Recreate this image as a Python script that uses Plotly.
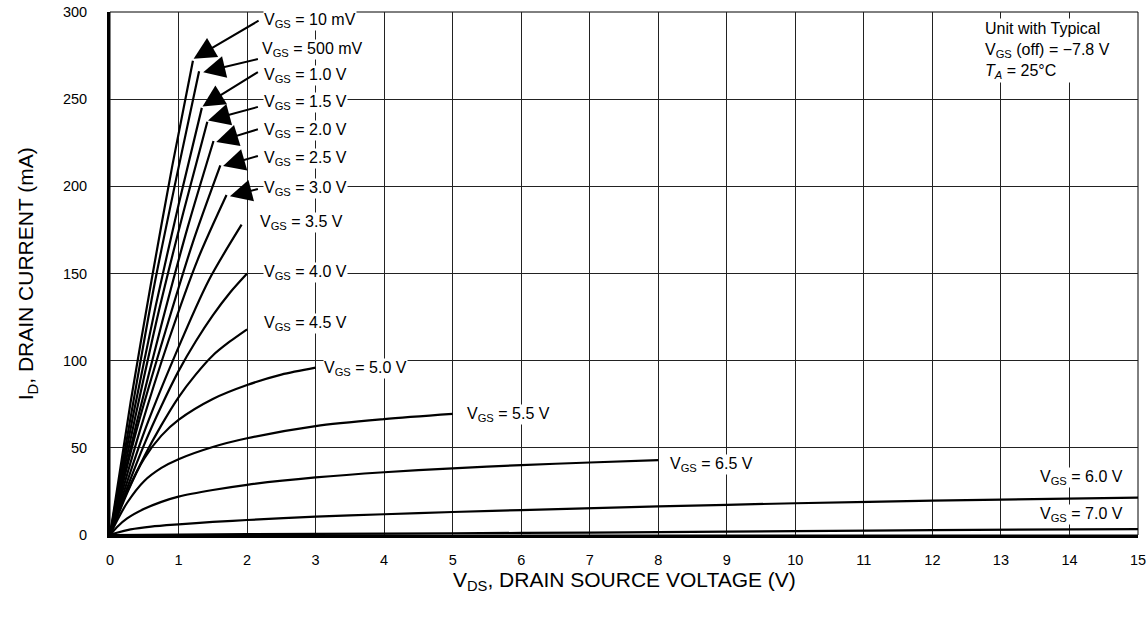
import plotly.graph_objects as go

FONT = "Liberation Sans, Arial, sans-serif"

# ---- data ----
curve_names = ["10 mV", "500 mV", "1.0 V", "1.5 V", "2.0 V", "2.5 V", "3.0 V", "3.5 V",
               "4.0 V", "4.5 V", "5.0 V", "5.5 V", "6.5 V", "6.0 V", "7.0 V"]

vds_10mV = [0, 0.30, 0.61, 0.91, 1.21]
id_10mV = [0, 76, 147, 212, 272]
vds_500mV = [0, 0.33, 0.65, 0.98, 1.30]
id_500mV = [0, 74, 144, 207, 266]
vds_1v0 = [0, 0.34, 0.67, 1.01, 1.34]
id_1v0 = [0, 69, 132, 191, 245]
vds_1v5 = [0, 0.36, 0.71, 1.07, 1.42]
id_1v5 = [0, 66, 128, 185, 237]
vds_2v0 = [0, 0.38, 0.76, 1.13, 1.51]
id_2v0 = [0, 63, 122, 176, 226]
vds_2v5 = [0, 0.40, 0.81, 1.21, 1.61]
id_2v5 = [0, 62, 117, 168, 212]
vds_3v0 = [0, 0.43, 0.85, 1.28, 1.70]
id_3v0 = [0, 59, 111, 158, 195]
vds_3v5 = [0, 0.48, 0.96, 1.44, 1.92]
id_3v5 = [0, 57, 104, 146, 178]
vds_4v0 = [0, 0.25, 0.5, 0.75, 1, 1.25, 1.5, 1.75, 2]
id_4v0 = [0, 27, 52, 74, 94, 111, 126, 139, 150]
vds_4v5 = [0, 0.25, 0.5, 0.75, 1, 1.25, 1.5, 1.75, 2]
id_4v5 = [0, 24, 45, 63, 79, 92, 103, 111, 118]
vds_5v0 = [0, 0.1, 0.25, 0.5, 0.75, 1, 1.5, 2, 2.5, 3]
id_5v0 = [0, 11, 25, 44, 57, 66, 78, 86, 92, 96]
vds_5v5 = [0, 0.1, 0.25, 0.5, 0.75, 1, 1.5, 2, 3, 4, 5]
id_5v5 = [0, 8, 18.5, 31, 38.5, 43.5, 50.5, 55.5, 62.5, 66.5, 69.5]
vds_6v5 = [0, 0.1, 0.25, 0.5, 0.75, 1, 1.5, 2, 3, 4, 5, 6, 7, 8]
id_6v5 = [0, 4.5, 9.5, 15, 19, 22, 25.8, 28.8, 33, 36, 38.2, 40.1, 41.6, 43]
vds_6v0 = [0, 0.1, 0.3, 0.6, 1, 1.5, 2, 3, 4, 5, 6, 8, 10, 12, 15]
id_6v0 = [0, 1.3, 3.2, 4.8, 6.1, 7.5, 8.6, 10.5, 11.9, 13.2, 14.3, 16.4, 18.2, 19.7, 21.4]
vds_7v0 = [0, 2, 4, 6, 8, 10, 12, 15]
id_7v0 = [0, 0.5, 0.8, 1.2, 1.6, 2.2, 2.8, 3.4]

curves_x = [vds_10mV, vds_500mV, vds_1v0, vds_1v5, vds_2v0, vds_2v5, vds_3v0, vds_3v5,
            vds_4v0, vds_4v5, vds_5v0, vds_5v5, vds_6v5, vds_6v0, vds_7v0]
curves_y = [id_10mV, id_500mV, id_1v0, id_1v5, id_2v0, id_2v5, id_3v0, id_3v5,
            id_4v0, id_4v5, id_5v0, id_5v5, id_6v5, id_6v0, id_7v0]

# label anchor positions (data coords) for each curve label
label_x = [2.23, 2.20, 2.23, 2.23, 2.23, 2.23, 2.23, 2.18, 2.23, 2.23, 3.11, 5.20, 8.16, 14.80, 14.80]
label_y = [295.1, 278.5, 263.6, 248.1, 232.1, 216.0, 198.9, 179.4, 150.7, 121.5, 95.7, 69.3, 40.7, 33.2, 12.0]
label_anchor = ["left"] * 13 + ["right", "right"]

# arrows for the top labels: tip and tail (data coords)
arrow_tip_x = [1.22, 1.36, 1.35, 1.43, 1.55, 1.65, 1.75]
arrow_tip_y = [273.2, 265.5, 245.8, 237.8, 225.4, 211.6, 194.3]
arrow_tail_x = [2.19, 2.18, 2.18, 2.18, 2.18, 2.18, 2.18]
arrow_tail_y = [295.5, 273.2, 266.1, 245.8, 233.0, 217.7, 198.7]

x_ticks = list(range(0, 16))
y_ticks = [0, 50, 100, 150, 200, 250, 300]

fig = go.Figure()
for name, xs, ys in zip(curve_names, curves_x, curves_y):
    fig.add_trace(go.Scatter(x=xs, y=ys, mode="lines", name="VGS = " + name,
                             line=dict(color="black", width=2.2, shape="spline", smoothing=0.8),
                             showlegend=False, hoverinfo="skip"))

annotations = []
for name, lx, ly, anc in zip(curve_names, label_x, label_y, label_anchor):
    annotations.append(dict(x=lx, y=ly, xref="x", yref="y", text="V<sub>GS</sub> = " + name,
                            showarrow=False, xanchor=anc, yanchor="middle",
                            font=dict(family=FONT, size=16, color="black"),
                            bgcolor="white", borderpad=0))
for tx, ty, ax, ay in zip(arrow_tip_x, arrow_tip_y, arrow_tail_x, arrow_tail_y):
    annotations.append(dict(x=tx, y=ty, xref="x", yref="y", ax=ax, ay=ay, axref="x", ayref="y",
                            text="", showarrow=True, arrowhead=2, arrowsize=2.2, arrowwidth=2,
                            arrowcolor="black", standoff=0))
annotations.append(dict(x=12.74, y=277.7, xref="x", yref="y", xanchor="left", yanchor="middle",
                        text="Unit with Typical<br>V<sub>GS</sub> (off) = \u22127.8 V<br><i>T<sub>A</sub></i> = 25\u00b0C",
                        showarrow=False, align="left",
                        font=dict(family=FONT, size=16, color="black"),
                        bgcolor="white", borderpad=1))
# axis titles
annotations.append(dict(x=0.5, y=-0.088, xref="paper", yref="paper", xanchor="center", yanchor="middle",
                        text="V<sub>DS</sub>, DRAIN SOURCE VOLTAGE (V)", showarrow=False,
                        font=dict(family=FONT, size=21, color="black")))
annotations.append(dict(x=-0.081, y=0.5, xref="paper", yref="paper", xanchor="center", yanchor="middle",
                        text="I<sub>D</sub>, DRAIN CURRENT (mA)", showarrow=False, textangle=-90,
                        font=dict(family=FONT, size=21, color="black")))

fig.update_layout(
    width=1148, height=617,
    margin=dict(l=110, r=10, t=12, b=82, autoexpand=False),
    paper_bgcolor="white", plot_bgcolor="white",
    font=dict(family=FONT, size=14, color="black"),
    annotations=annotations,
    shapes=[dict(type="rect", xref="paper", yref="paper", x0=0, y0=0, x1=1, y1=1,
                 line=dict(color="black", width=1), layer="below")],
)
fig.update_xaxes(range=[0, 15], tickvals=x_ticks, ticktext=[str(t) for t in x_ticks],
                 showgrid=True, gridcolor="#222", gridwidth=1, automargin=False,
                 showline=True, linecolor="black", linewidth=3, zeroline=False,
                 ticks="", ticklabelstandoff=10,
                 tickfont=dict(family=FONT, size=14.5, color="black"))
fig.update_yaxes(range=[0, 300], tickvals=y_ticks, automargin=False,
                 showgrid=True, gridcolor="#222", gridwidth=1,
                 showline=True, linecolor="black", linewidth=3, zeroline=False,
                 ticks="", ticklabelstandoff=17,
                 tickfont=dict(family=FONT, size=14.5, color="black"))

fig.write_html("out.html", config={"displayModeBar": False},
               post_script="document.body.style.margin='0px';document.body.style.overflow='hidden';")
